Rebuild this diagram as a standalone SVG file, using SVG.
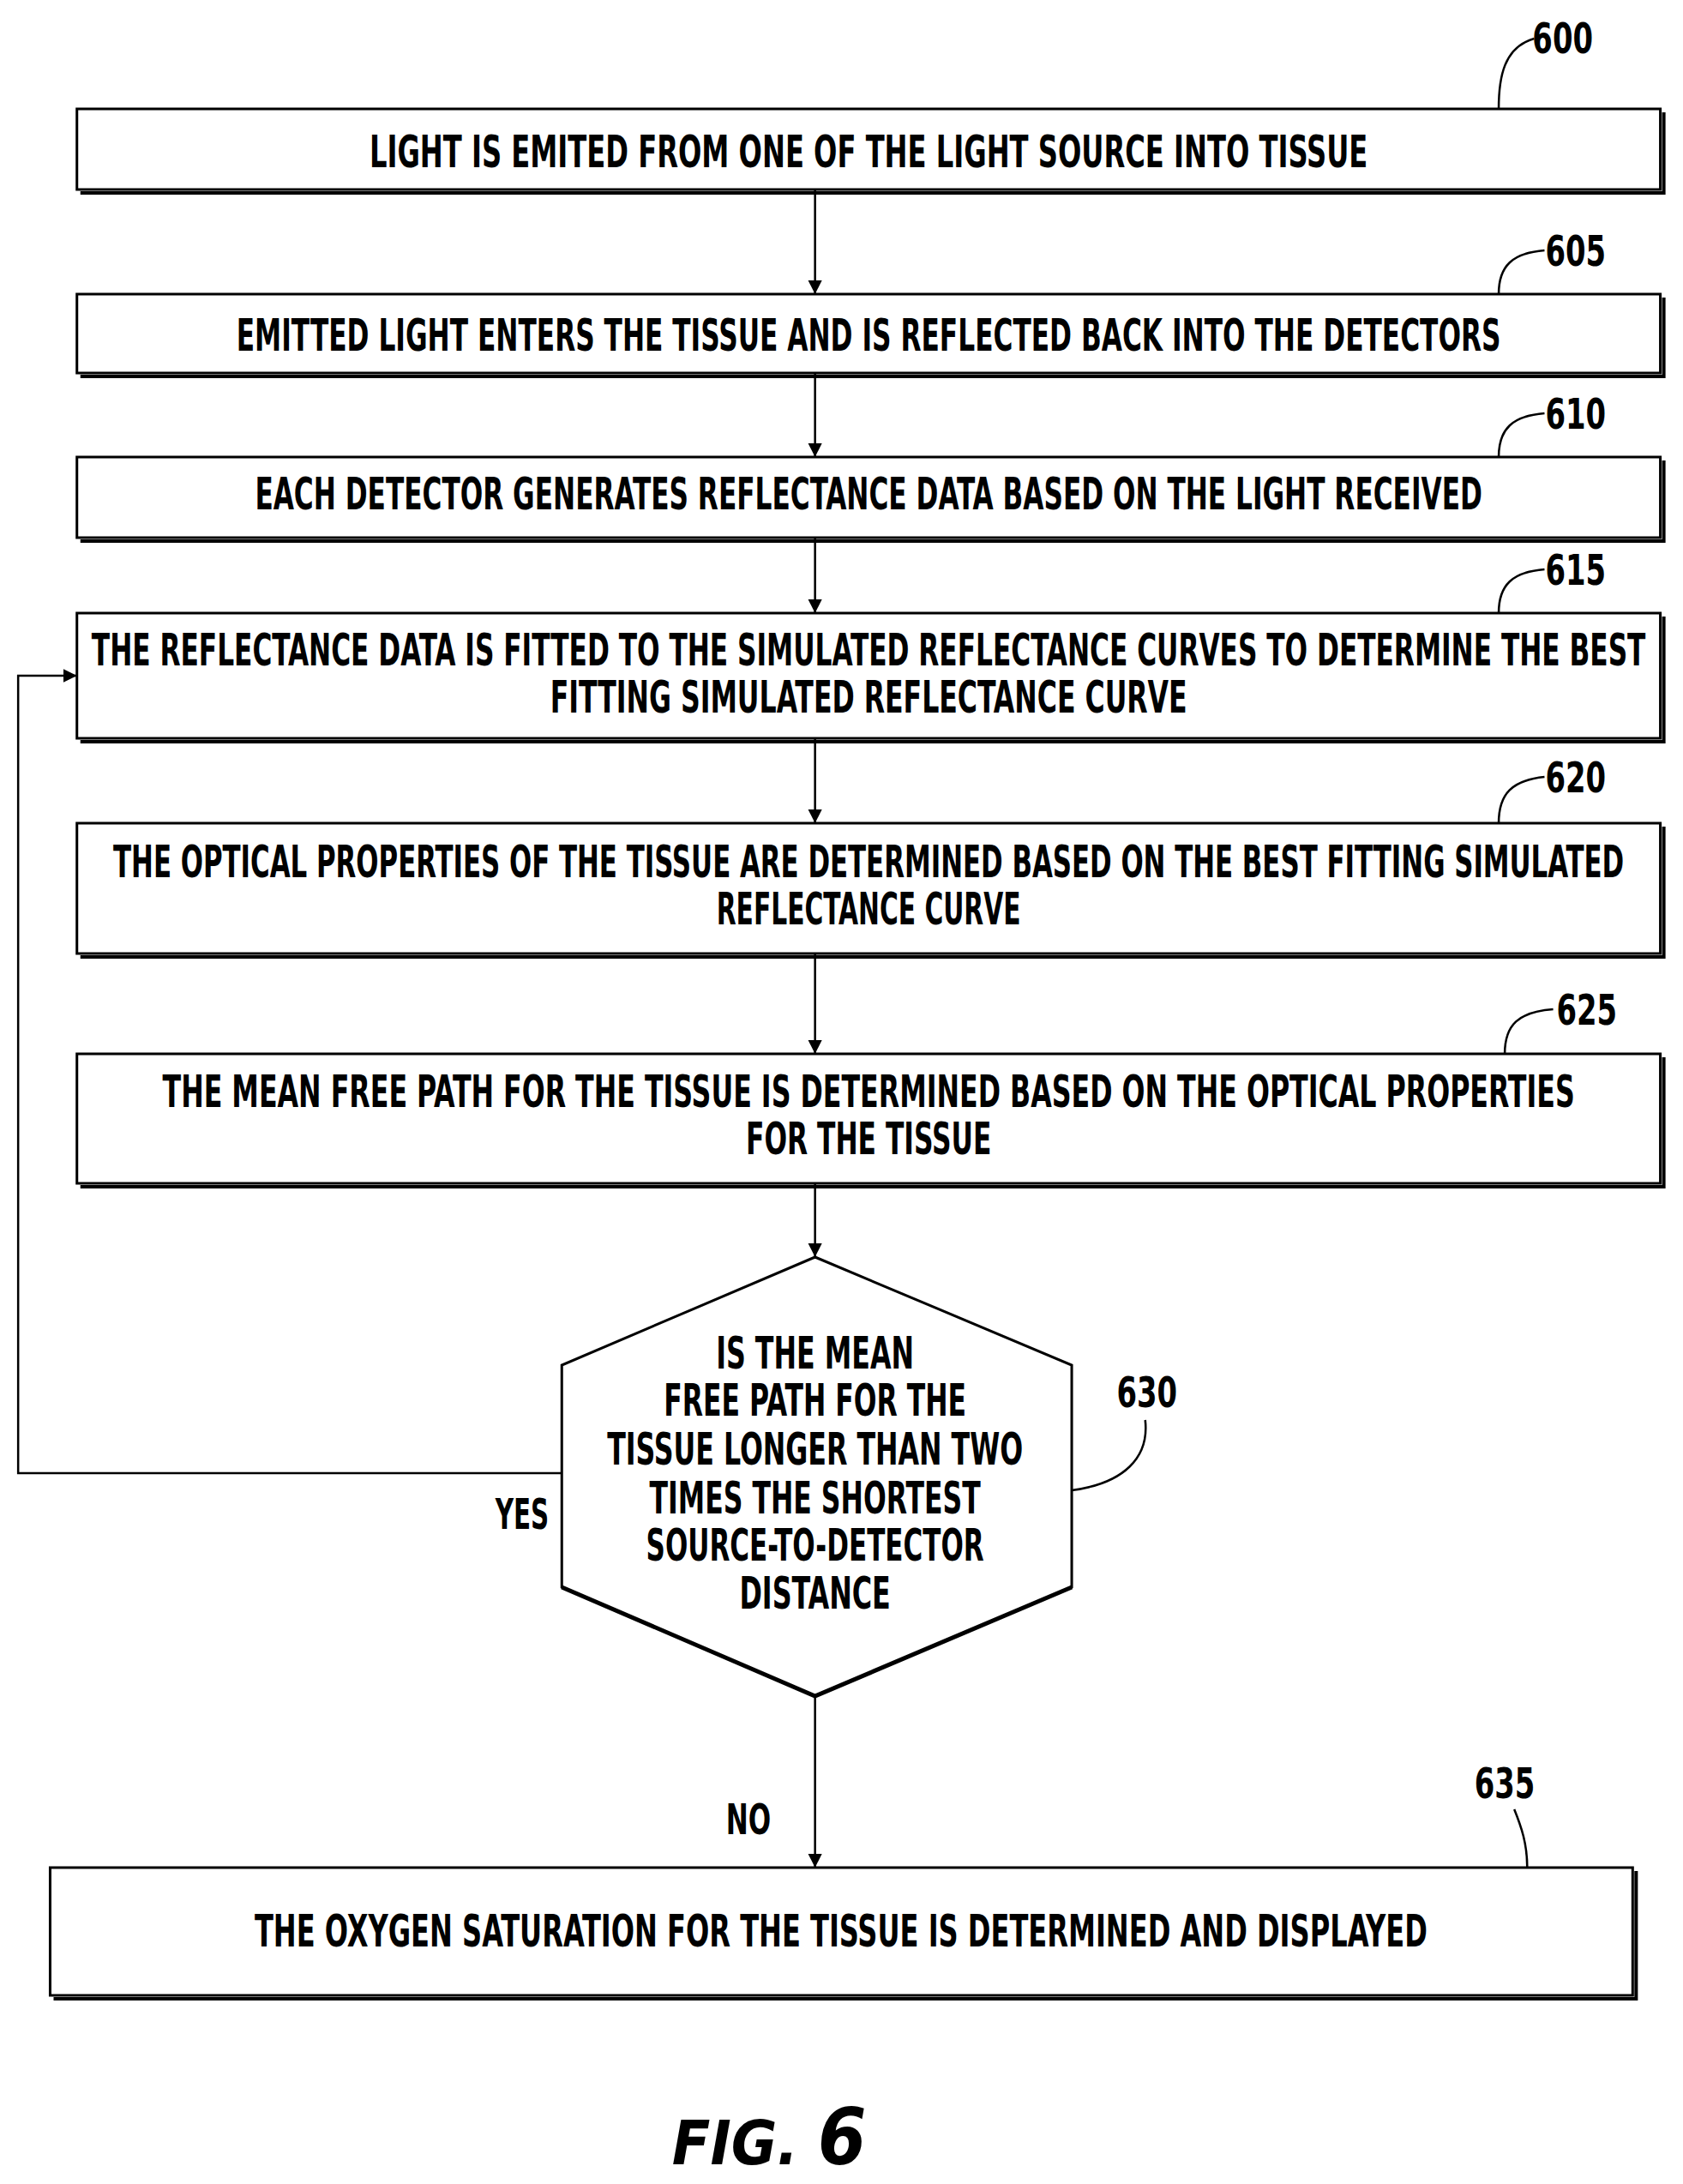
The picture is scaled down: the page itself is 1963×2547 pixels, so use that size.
<svg xmlns="http://www.w3.org/2000/svg" width="1963" height="2547" viewBox="0 0 1963 2547">
<style>
.b{fill:#fff;stroke:#000;stroke-width:3}
.s{fill:none;stroke:#000;stroke-width:4}
.t{font-family:"DejaVu Sans Condensed","Liberation Sans",sans-serif;font-weight:bold;font-size:52px;text-anchor:middle}
.n{font-family:"DejaVu Sans Condensed","Liberation Sans",sans-serif;font-weight:bold;font-size:50px;text-anchor:middle}
.l{fill:none;stroke:#000;stroke-width:2.5}
.c{fill:none;stroke:#000;stroke-width:2.5}
</style>
<defs><marker id="a" markerWidth="16" markerHeight="40" refX="16" refY="10" orient="auto" markerUnits="userSpaceOnUse" viewBox="0 0 16 20"><path d="M0,2 L16,10 L0,18 Z" fill="#000"/></marker></defs>
<rect width="1963" height="2547" fill="#fff"/>
<g transform="scale(1.0081,1)">
<g id="n600"><path class="s" d="M93,225 H1925 V131"/><rect class="b" x="89" y="127" width="1832" height="94"/><text class="t" x="1005" y="195" textLength="1155" lengthAdjust="spacingAndGlyphs">LIGHT IS EMITED FROM ONE OF THE LIGHT SOURCE INTO TISSUE</text><path class="l" d="M1734,127 C1734,90 1740,55 1775,45"/><text class="n" x="1808" y="62" textLength="70" lengthAdjust="spacingAndGlyphs">600</text></g>
<g id="n605"><path class="s" d="M93,439 H1925 V347"/><rect class="b" x="89" y="343" width="1832" height="92"/><text class="t" x="1005" y="409" textLength="1463" lengthAdjust="spacingAndGlyphs">EMITTED LIGHT ENTERS THE TISSUE AND IS REFLECTED BACK INTO THE DETECTORS</text><path class="l" d="M1734,343 C1734,310 1750,295 1787,292"/><text class="n" x="1823" y="310" textLength="70" lengthAdjust="spacingAndGlyphs">605</text></g>
<g id="n610"><path class="s" d="M93,631 H1925 V537"/><rect class="b" x="89" y="533" width="1832" height="94"/><text class="t" x="1005" y="594" textLength="1420" lengthAdjust="spacingAndGlyphs">EACH DETECTOR GENERATES REFLECTANCE DATA BASED ON THE LIGHT RECEIVED</text><path class="l" d="M1734,533 C1734,500 1750,485 1787,482"/><text class="n" x="1823" y="500" textLength="70" lengthAdjust="spacingAndGlyphs">610</text></g>
<g id="n615"><path class="s" d="M93,865 H1925 V719"/><rect class="b" x="89" y="715" width="1832" height="146"/><text class="t" x="1005" y="776" textLength="1798" lengthAdjust="spacingAndGlyphs">THE REFLECTANCE DATA IS FITTED TO THE SIMULATED REFLECTANCE CURVES TO DETERMINE THE BEST</text><text class="t" x="1005" y="831" textLength="737" lengthAdjust="spacingAndGlyphs">FITTING SIMULATED REFLECTANCE CURVE</text><path class="l" d="M1734,715 C1734,682 1750,667 1787,664"/><text class="n" x="1823" y="682" textLength="70" lengthAdjust="spacingAndGlyphs">615</text></g>
<g id="n620"><path class="s" d="M93,1116 H1925 V964"/><rect class="b" x="89" y="960" width="1832" height="152"/><text class="t" x="1005" y="1023" textLength="1748" lengthAdjust="spacingAndGlyphs">THE OPTICAL PROPERTIES OF THE TISSUE ARE DETERMINED BASED ON THE BEST FITTING SIMULATED</text><text class="t" x="1005" y="1078" textLength="352" lengthAdjust="spacingAndGlyphs">REFLECTANCE CURVE</text><path class="l" d="M1734,960 C1734,925 1750,910 1787,906"/><text class="n" x="1823" y="924" textLength="70" lengthAdjust="spacingAndGlyphs">620</text></g>
<g id="n625"><path class="s" d="M93,1384 H1925 V1233"/><rect class="b" x="89" y="1229" width="1832" height="151"/><text class="t" x="1005" y="1291" textLength="1634" lengthAdjust="spacingAndGlyphs">THE MEAN FREE PATH FOR THE TISSUE IS DETERMINED BASED ON THE OPTICAL PROPERTIES</text><text class="t" x="1005" y="1346" textLength="284" lengthAdjust="spacingAndGlyphs">FOR THE TISSUE</text><path class="l" d="M1741,1229 C1741,1195 1757,1180 1797,1177"/><text class="n" x="1836" y="1195" textLength="70" lengthAdjust="spacingAndGlyphs">625</text></g>
<g id="n630"><path d="M943,1466 L1240,1592 L1240,1851 L943,1978 L650,1851 L650,1592 Z" fill="#fff" stroke="#000" stroke-width="3"/><path d="M650,1851 L943,1978 L1240,1851" fill="none" stroke="#000" stroke-width="5"/>
<text class="t" x="943" y="1596" textLength="229" lengthAdjust="spacingAndGlyphs">IS THE MEAN</text>
<text class="t" x="943" y="1651" textLength="350" lengthAdjust="spacingAndGlyphs">FREE PATH FOR THE</text>
<text class="t" x="943" y="1708" textLength="481" lengthAdjust="spacingAndGlyphs">TISSUE LONGER THAN TWO</text>
<text class="t" x="943" y="1765" textLength="383" lengthAdjust="spacingAndGlyphs">TIMES THE SHORTEST</text>
<text class="t" x="943" y="1820" textLength="391" lengthAdjust="spacingAndGlyphs">SOURCE-TO-DETECTOR</text>
<text class="t" x="943" y="1876" textLength="175" lengthAdjust="spacingAndGlyphs">DISTANCE</text>
<path class="l" d="M1240,1738 C1300,1730 1330,1700 1325,1656"/><text class="n" x="1327" y="1641" textLength="70" lengthAdjust="spacingAndGlyphs">630</text></g>
<g id="n635"><path class="s" d="M62,2331 H1893 V2182"/><rect class="b" x="58" y="2178" width="1831" height="149"/><text class="t" x="973" y="2270" textLength="1357" lengthAdjust="spacingAndGlyphs">THE OXYGEN SATURATION FOR THE TISSUE IS DETERMINED AND DISPLAYED</text><path class="l" d="M1767,2178 C1767,2150 1760,2130 1752,2110"/><text class="n" x="1741" y="2097" textLength="70" lengthAdjust="spacingAndGlyphs">635</text></g>
<g id="connectors">
<line class="c" x1="943" y1="221" x2="943" y2="343" marker-end="url(#a)"/>
<line class="c" x1="943" y1="435" x2="943" y2="533" marker-end="url(#a)"/>
<line class="c" x1="943" y1="627" x2="943" y2="715" marker-end="url(#a)"/>
<line class="c" x1="943" y1="861" x2="943" y2="960" marker-end="url(#a)"/>
<line class="c" x1="943" y1="1112" x2="943" y2="1229" marker-end="url(#a)"/>
<line class="c" x1="943" y1="1380" x2="943" y2="1466" marker-end="url(#a)"/>
<line class="c" x1="943" y1="1978" x2="943" y2="2178" marker-end="url(#a)"/>
<path class="c" d="M650,1718 H21 V788 H89" marker-end="url(#a)"/>
<text class="n" x="604" y="1783" textLength="62" lengthAdjust="spacingAndGlyphs">YES</text>
<text class="n" x="866" y="2139" textLength="52" lengthAdjust="spacingAndGlyphs">NO</text>
</g>
<text x="890" y="2524" font-family="DejaVu Sans Condensed,Liberation Sans,sans-serif" font-style="italic" font-weight="bold" font-size="72" text-anchor="middle">FIG. <tspan font-size="90">6</tspan></text>
</g>
</svg>
